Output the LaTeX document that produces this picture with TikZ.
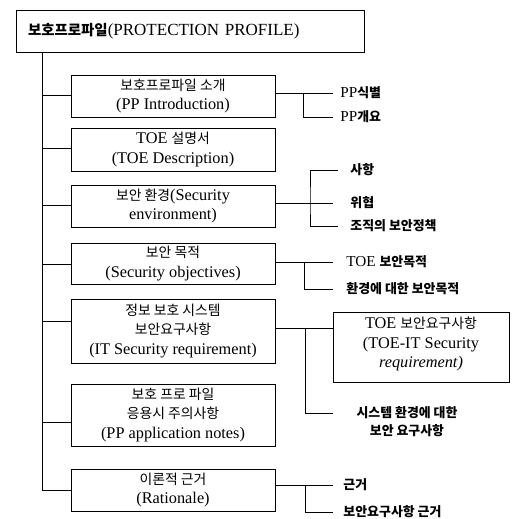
\documentclass[tikz,border=0pt]{standalone}
\usepackage{fontspec}
\setmainfont{Liberation Serif}
\newfontfamily\kr[Scale=0.85]{Noto Sans CJK KR}
\newcommand\K[1]{{\kr #1}}
\newcommand\KB[1]{{\kr\bfseries #1}}
\begin{document}
\begin{tikzpicture}[x=1pt,y=-1pt,line width=0.9pt,
  box/.style={draw,minimum width=204pt,align=center,inner sep=0pt,font=\fontsize{16.3}{19.5}\selectfont},
  lab/.style={anchor=west,inner sep=0pt,font=\fontsize{15.2}{18}\selectfont}]
\useasboundingbox (0,0) rectangle (516,519);
% title
\node[draw,minimum width=348pt,minimum height=42pt,inner xsep=12pt,inner ysep=0pt,
  text width=324pt,align=left,font=\fontsize{17}{19}\selectfont] (top) at (190,31)
  {\KB{보호프로파일}(PROTECTION PROFILE)};
% boxes
\node[box,minimum height=42pt] (b1) at (173,96) {\K{보호프로파일 소개}\\(PP Introduction)};
\node[box,minimum height=43pt] (b2) at (173,149.5) {TOE \K{설명서}\\(TOE Description)};
\node[box,minimum height=42pt] (b3) at (173,206) {\K{보안 환경}(Security\\environment)};
\node[box,minimum height=41pt] (b4) at (173,263.5) {\K{보안 목적}\\(Security objectives)};
\node[box,minimum height=64pt] (b5) at (173,331) {\K{정보 보호 시스템}\\\K{보안요구사항}\\(IT Security requirement)};
\node[box,minimum height=62pt] (b6) at (173,415) {\K{보호 프로 파일}\\\K{응용시 주의사항}\\(PP application notes)};
\node[box,minimum height=42pt] (b7) at (173,490) {\K{이론적 근거}\\(Rationale)};
% trunk
\coordinate (trk) at ([xshift=27pt]top.south west);
\draw (trk) |- (b7.west);
\foreach \b/\y in {b1/95,b2/148,b3/205,b4/264,b5/321,b6/422}
  \draw (\b.west |- 0,\y) -- (trk |- 0,\y);
% box 1 branch
\node[lab] (l11) at (340,93) {PP\KB{식별}};
\node[lab] (l12) at (340,117) {PP\KB{개요}};
\coordinate (j1) at (303,93);
\draw (b1.east |- l11) -- ([xshift=-7pt]l11.west);
\draw (j1) |- ([xshift=-7pt]l12.west);
% box 3 branch
\node[lab] (l31) at (350,170) {\KB{사항}};
\node[lab] (l32) at (350,203) {\KB{위협}};
\node[lab] (l33) at (350,226) {\KB{조직의 보안정책}};
\coordinate (j3) at (310,203);
\draw (b3.east |- l32) -- ([xshift=-17pt]l32.west);
\draw ([xshift=-12pt]l31.west) -| (j3) |- ([xshift=-12pt]l33.west);
% box 4 branch
\node[lab] (l41) at (346,262) {TOE \KB{보안목적}};
\node[lab] (l42) at (346,289) {\KB{환경에 대한 보안목적}};
\coordinate (j4) at (304,262);
\draw (b4.east |- l41) -- ([xshift=-13pt]l41.west);
\draw (j4) |- ([xshift=-13pt]l42.west);
% box 5 branch
\node[draw,minimum width=176pt,minimum height=70pt,inner sep=0pt] (toe) at (421,347.5) {};
\node[align=center,inner sep=0pt,font=\fontsize{16.3}{19.5}\selectfont] (toet) at (421,344)
  {TOE \K{보안요구사항}\\(TOE-IT Security\\\textit{requirement)}};
\coordinate (j5) at (305,328);
\coordinate (e5) at (333,413);
\draw (b5.east |- j5) -- (toe.west |- j5);
\draw (j5) |- (e5);
\node[align=center,inner sep=0pt,font=\fontsize{15.2}{18}\selectfont] (l5) at (407,422)
  {\KB{시스템 환경에 대한}\\\KB{보안 요구사항}};
% box 7 branch
\node[lab] (l71) at (343,485) {\KB{근거}};
\node[lab] (l72) at (343,512) {\KB{보안요구사항 근거}};
\coordinate (j7) at (305,485);
\draw (b7.east |- l71) -- ([xshift=-10pt]l71.west);
\draw (j7) |- ([xshift=-10pt]l72.west);
\end{tikzpicture}
\end{document}
